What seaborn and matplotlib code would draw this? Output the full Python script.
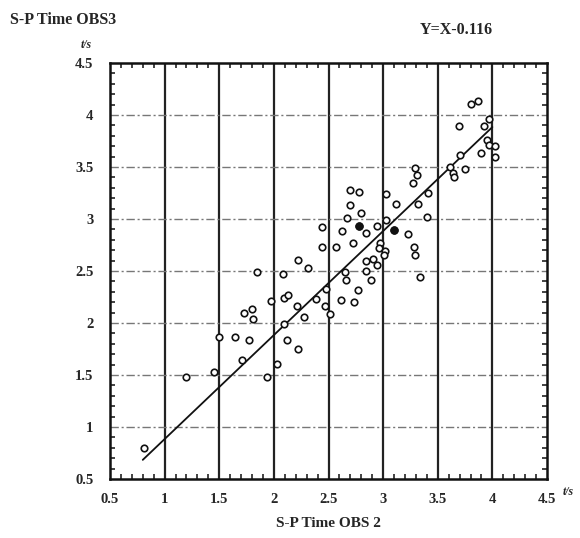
import numpy as np
import pandas as pd
import matplotlib
matplotlib.use("Agg")
import matplotlib.pyplot as plt
import seaborn as sns
from matplotlib.ticker import MultipleLocator

# S-P times read at the two ocean-bottom seismometers (seconds)
obs2 = [0.81, 1.20, 1.45, 1.50, 1.64, 1.77, 1.71, 1.73, 1.80, 1.81,
        1.85, 1.94, 1.97, 2.03, 2.08, 2.09, 2.13, 2.09, 2.12, 2.22,
        2.21, 2.28, 2.22, 2.31, 2.39, 2.44, 2.48, 2.47, 2.51, 2.57,
        2.72, 2.65, 2.66, 2.84, 2.91, 2.94, 2.84, 2.89, 2.77, 2.61,
        2.73, 2.97, 2.96, 3.02, 3.01, 3.28, 3.29, 3.34, 2.44, 2.62,
        2.67, 2.70, 2.80, 2.70, 2.78, 2.78, 2.84, 2.94, 3.03, 3.03,
        3.12, 3.10, 3.23, 3.32, 3.41, 3.40, 3.29, 3.31, 3.27, 3.61,
        3.64, 3.65, 3.75, 3.70, 3.69, 3.80, 3.87, 3.97, 3.92, 3.95,
        3.97, 4.02, 3.90, 4.02]
obs3 = [0.80, 1.48, 1.53, 1.87, 1.87, 1.84, 1.64, 2.10, 2.13, 2.04,
        2.49, 1.48, 2.21, 1.61, 2.47, 2.24, 2.27, 1.99, 1.84, 1.75,
        2.16, 2.06, 2.61, 2.53, 2.23, 2.73, 2.33, 2.16, 2.09, 2.73,
        2.77, 2.49, 2.41, 2.60, 2.62, 2.56, 2.50, 2.41, 2.32, 2.22,
        2.20, 2.77, 2.72, 2.69, 2.65, 2.73, 2.65, 2.44, 2.92, 2.88,
        3.01, 3.13, 3.06, 3.28, 3.26, 2.93, 2.87, 2.93, 2.99, 3.24,
        3.14, 2.89, 2.86, 3.14, 3.25, 3.02, 3.49, 3.42, 3.35, 3.50,
        3.44, 3.40, 3.48, 3.62, 3.89, 4.11, 4.13, 3.96, 3.89, 3.76,
        3.71, 3.70, 3.63, 3.60]
# two observations printed as solid dots
solid = [(2.78, 2.93), (3.10, 2.89)]

# fitted relation Y = X - 0.116
fit_offset = 0.116
fit_range = [0.80, 4.00]

ticks = [0.5, 1, 1.5, 2, 2.5, 3, 3.5, 4, 4.5]
tick_labels = ["0.5", "1", "1.5", "2", "2.5", "3", "3.5", "4", "4.5"]

sns.set_style("white")
serif = ["Liberation Serif", "DejaVu Serif"]
plt.rcParams["font.family"] = serif

fig = plt.figure(figsize=(5.8, 5.38), dpi=100)
ax = fig.add_axes([110 / 580, 1 - 479 / 538, 437 / 580, 416 / 538])

# grid: solid verticals, dash-dot grey horizontals
for v in ticks[1:-1]:
    ax.axvline(v, color="#222222", lw=1.6, zorder=1)
    ax.axhline(v, color="#777777", lw=1.0, ls=(0, (6, 2, 1.5, 2)), zorder=1)

df = pd.DataFrame({"OBS2": obs2, "OBS3": obs3})
sns.scatterplot(data=df, x="OBS2", y="OBS3", ax=ax, marker="o", s=22,
                facecolor="white", edgecolor="#111111", linewidth=1.2, zorder=3)
sd = pd.DataFrame(solid, columns=["OBS2", "OBS3"])
sns.scatterplot(data=sd, x="OBS2", y="OBS3", ax=ax, marker="o", s=26,
                color="#111111", edgecolor="#111111", linewidth=1.0, zorder=4)

fx = np.array(fit_range)
sns.lineplot(x=fx, y=fx - fit_offset, ax=ax, color="#111111", lw=1.3, zorder=2)

ax.set_xlim(0.5, 4.5)
ax.set_ylim(0.5, 4.5)
ax.set_xticks(ticks)
ax.set_yticks(ticks)
ax.set_xticklabels(tick_labels)
ax.set_yticklabels(tick_labels)
ax.xaxis.set_minor_locator(MultipleLocator(0.1))
ax.yaxis.set_minor_locator(MultipleLocator(0.1))
ax.tick_params(which="major", direction="out", length=7, width=1.6,
               color="#222222", labelsize=10.5, top=False, right=False, pad=5)
ax.tick_params(axis="x", which="major", pad=3)
ax.tick_params(which="minor", direction="in", length=3.5, width=1.2,
               color="#222222", top=True, right=True, bottom=True, left=True)
for lab in ax.get_xticklabels() + ax.get_yticklabels():
    lab.set_fontweight("bold")

for side in ["left", "right", "top", "bottom"]:
    ax.spines[side].set_visible(True)
    ax.spines[side].set_color("#111111")
    ax.spines[side].set_linewidth(1.8)

ax.set_xlabel("S-P Time OBS 2", fontsize=11, fontweight="bold", labelpad=8)
ax.set_ylabel("")

fig.text(10 / 580, 1 - 20 / 538, "S-P Time OBS3", fontsize=11.5,
         fontweight="bold", ha="left", va="center")
fig.text(456 / 580, 1 - 30 / 538, "Y=X-0.116", fontsize=11.5,
         fontweight="bold", ha="center", va="center")
fig.text(86 / 580, 1 - 45 / 538, "t/s", fontsize=8.5, fontstyle="italic",
         fontweight="bold", ha="center", va="center")
fig.text(568 / 580, 1 - 492 / 538, "t/s", fontsize=8.5, fontstyle="italic",
         fontweight="bold", ha="center", va="center")

fig.savefig("out.png", dpi=100, facecolor="white")
